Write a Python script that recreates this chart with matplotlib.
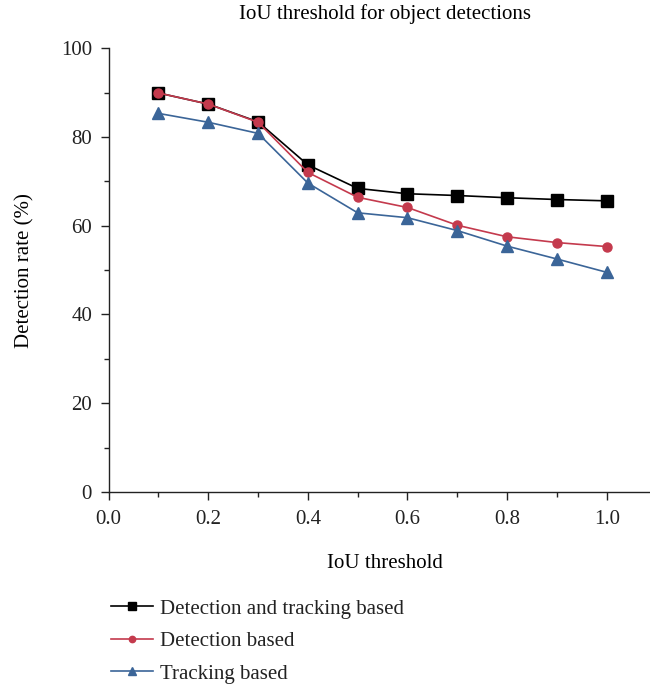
import matplotlib.pyplot as plt
from matplotlib.ticker import MultipleLocator

plt.rcParams['font.family'] = ['Liberation Serif', 'DejaVu Serif']

iou = [0.1, 0.2, 0.3, 0.4, 0.5, 0.6, 0.7, 0.8, 0.9, 1.0]
det_track = [89.9, 87.4, 83.4, 73.7, 68.4, 67.2, 66.8, 66.3, 65.9, 65.6]
det_only = [89.9, 87.4, 83.3, 72.0, 66.4, 64.1, 60.1, 57.5, 56.2, 55.3]
track_only = [85.3, 83.3, 80.8, 69.6, 62.9, 61.8, 58.9, 55.4, 52.5, 49.5]

red = '#c43a4d'
blue = '#3b6598'


def main() -> None:
    fig = plt.figure(figsize=(6.5, 6.86), dpi=100)
    ax = fig.add_axes([0.1672, 0.2828, 0.8328, 0.647])

    ax.plot(iou, det_track, color='black', marker='s', markersize=8, lw=1.2,
            label='Detection and tracking based')
    ax.plot(iou, det_only, color=red, marker='o', markersize=6.5, lw=1.2,
            label='Detection based')
    ax.plot(iou, track_only, color=blue, marker='^', markersize=8, lw=1.2,
            label='Tracking based')

    ax.set_xlim(0, 1.087)
    ax.set_ylim(0, 100)
    ax.xaxis.set_minor_locator(MultipleLocator(0.1))
    ax.yaxis.set_major_locator(MultipleLocator(20))
    ax.yaxis.set_minor_locator(MultipleLocator(10))
    ax.set_xticks([0.0, 0.2, 0.4, 0.6, 0.8, 1.0])
    ax.set_xticklabels(['0.0', '0.2', '0.4', '0.6', '0.8', '1.0'])

    for side in ('top', 'right'):
        ax.spines[side].set_visible(False)
    for side in ('left', 'bottom'):
        ax.spines[side].set_linewidth(1.0)
        ax.spines[side].set_color('#222222')
    ax.tick_params(which='major', direction='out', length=6, width=1.0,
                   labelsize=15, colors='#222222', pad=6)
    ax.tick_params(axis='x', which='major', pad=7)
    ax.tick_params(which='minor', direction='out', length=3.5, width=1.0,
                   colors='#222222')

    fig.text(0.592, 0.979, 'IoU threshold for object detections',
             ha='center', va='center', fontsize=15)
    fig.text(0.592, 0.178, 'IoU threshold', ha='center', va='center',
             fontsize=15)
    fig.text(0.039, 0.606, 'Detection rate (%)', ha='center', va='center',
             rotation=90, fontsize=15)

    handles, labels = ax.get_legend_handles_labels()
    leg = fig.legend(handles, labels, loc='upper left',
                     bbox_to_anchor=(0.158, 0.139), frameon=False,
                     fontsize=15, handlelength=2.0, handletextpad=0.35,
                     labelspacing=0.62, borderaxespad=0, markerscale=0.7)
    for t in leg.get_texts():
        t.set_color('#222222')

    fig.savefig('out.png', dpi=100)


if __name__ == '__main__':
    main()
